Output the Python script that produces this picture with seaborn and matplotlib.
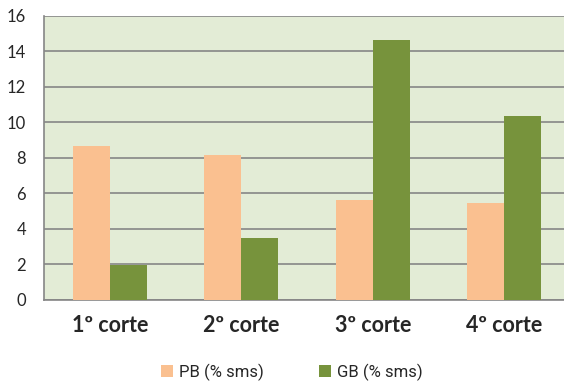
import matplotlib
matplotlib.use("Agg")
import matplotlib.pyplot as plt
import pandas as pd
import seaborn as sns
from matplotlib.patches import Patch

# data
cortes = ['1º corte', '2º corte', '3º corte', '4º corte']
pb = [8.67, 8.15, 5.6, 5.43]
gb = [1.98, 3.5, 14.6, 10.37]
series = ['PB (% sms)', 'GB (% sms)']
colors = ['#FAC090', '#77933C']

df = pd.DataFrame({
    'corte': cortes * 2,
    'valor': pb + gb,
    'serie': [series[0]] * 4 + [series[1]] * 4,
})

sns.set_style('white')
plt.rcParams['font.family'] = ['Lato', 'DejaVu Sans']

fig = plt.figure(figsize=(5.64, 3.82), dpi=100)
ax = fig.add_axes([44 / 564, 82 / 382, 526 / 564, 284.4 / 382])
ax.set_facecolor('#E3ECD6')

sns.barplot(data=df, x='corte', y='valor', hue='serie', palette=colors,
            width=0.56, saturation=1, gap=0, ax=ax, legend=False,
            linewidth=0, zorder=3)

ax.set_ylim(0, 16)
ax.set_xlim(-0.5, 3.5)
ax.set_yticks(range(0, 17, 2))
ax.yaxis.grid(True, color='#868686', linewidth=1.2, zorder=0)
ax.set_axisbelow(True)
ax.tick_params(axis='y', length=7, color='#868686', width=1, labelsize=12, pad=6)
ax.tick_params(axis='x', which='major', length=0, labelsize=15.5, pad=11)
ax.set_xticks([0.5, 1.5, 2.5], minor=True)
ax.tick_params(axis='x', which='minor', length=6, color='#868686', width=1)
for lab in ax.get_xticklabels():
    lab.set_fontweight('bold')
ax.set_xlabel('')
ax.set_ylabel('')
for s in ['top', 'right']:
    ax.spines[s].set_visible(False)
for s in ['left', 'bottom']:
    ax.spines[s].set_color('#868686')
    ax.spines[s].set_linewidth(1.2)

handles = [Patch(facecolor=c, edgecolor='none') for c in colors]
fig.legend(handles, series, loc='center', bbox_to_anchor=(292 / 564, 1 - 372 / 382),
           ncol=2, frameon=False, handlelength=0.7, handleheight=0.7,
           handletextpad=0.4, columnspacing=3.3,
           prop={'family': ['Roboto', 'DejaVu Sans'], 'size': 12})

fig.savefig('out.png', dpi=100)
